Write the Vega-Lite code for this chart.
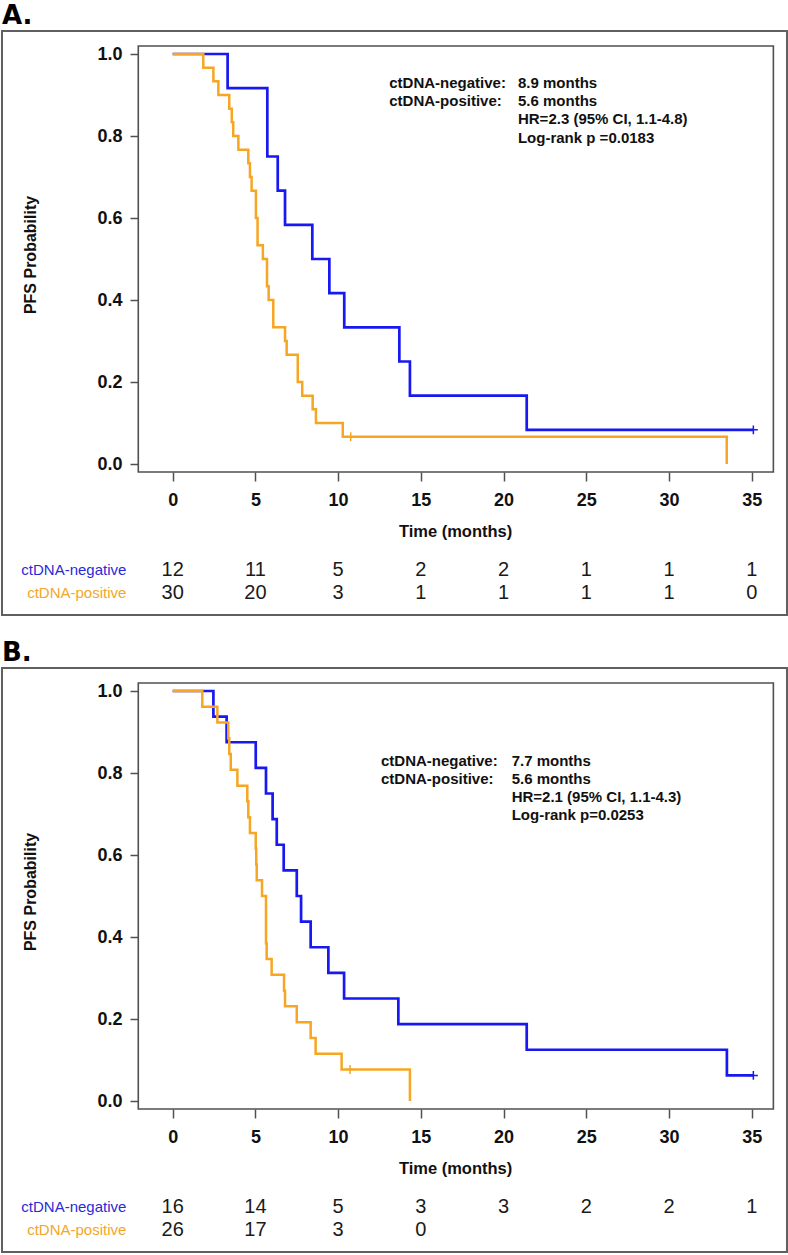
{
  "$schema": "https://vega.github.io/schema/vega-lite/v6.json",
  "padding": 0,
  "background": "white",
  "bounds": "flush",
  "spacing": 19,
  "config": {
    "view": {"stroke": null},
    "axisX": {"domain": false, "grid": false, "tickSize": 9, "tickColor": "#505050", "tickWidth": 1.5, "labelFont": "Liberation Sans", "labelFontWeight": "bold", "labelFontSize": 18, "labelColor": "#111111", "labelPadding": 10, "labelFlush": false, "labelOverlap": false},
    "axisY": {"domain": false, "grid": false, "tickSize": 8, "tickColor": "#505050", "tickWidth": 1.5, "labelFont": "Liberation Sans", "labelFontWeight": "bold", "labelFontSize": 18, "labelColor": "#111111", "labelPadding": 8, "labelFlush": false, "labelOverlap": false},
    "text": {"font": "Liberation Sans"}
  },
  "datasets": {
    "km": [
      {"panel": "A", "group": "neg", "t": 0, "s": 1},
      {"panel": "A", "group": "neg", "t": 3.32, "s": 0.9167},
      {"panel": "A", "group": "neg", "t": 5.72, "s": 0.75},
      {"panel": "A", "group": "neg", "t": 6.35, "s": 0.6667},
      {"panel": "A", "group": "neg", "t": 6.79, "s": 0.5833},
      {"panel": "A", "group": "neg", "t": 8.44, "s": 0.5},
      {"panel": "A", "group": "neg", "t": 9.47, "s": 0.4167},
      {"panel": "A", "group": "neg", "t": 10.37, "s": 0.3333},
      {"panel": "A", "group": "neg", "t": 13.7, "s": 0.25},
      {"panel": "A", "group": "neg", "t": 14.34, "s": 0.1667},
      {"panel": "A", "group": "neg", "t": 21.4, "s": 0.0833},
      {"panel": "A", "group": "neg", "t": 35.1, "s": 0.0833},
      {"panel": "A", "group": "pos", "t": 0, "s": 1},
      {"panel": "A", "group": "pos", "t": 1.85, "s": 0.9667},
      {"panel": "A", "group": "pos", "t": 2.46, "s": 0.9333},
      {"panel": "A", "group": "pos", "t": 2.76, "s": 0.9},
      {"panel": "A", "group": "pos", "t": 3.42, "s": 0.8667},
      {"panel": "A", "group": "pos", "t": 3.57, "s": 0.8333},
      {"panel": "A", "group": "pos", "t": 3.66, "s": 0.8},
      {"panel": "A", "group": "pos", "t": 3.97, "s": 0.7667},
      {"panel": "A", "group": "pos", "t": 4.57, "s": 0.7333},
      {"panel": "A", "group": "pos", "t": 4.67, "s": 0.7},
      {"panel": "A", "group": "pos", "t": 4.77, "s": 0.6667},
      {"panel": "A", "group": "pos", "t": 5.03, "s": 0.6},
      {"panel": "A", "group": "pos", "t": 5.13, "s": 0.5333},
      {"panel": "A", "group": "pos", "t": 5.45, "s": 0.5},
      {"panel": "A", "group": "pos", "t": 5.7, "s": 0.4333},
      {"panel": "A", "group": "pos", "t": 5.8, "s": 0.4},
      {"panel": "A", "group": "pos", "t": 6.08, "s": 0.3333},
      {"panel": "A", "group": "pos", "t": 6.79, "s": 0.3},
      {"panel": "A", "group": "pos", "t": 6.89, "s": 0.2667},
      {"panel": "A", "group": "pos", "t": 7.56, "s": 0.2},
      {"panel": "A", "group": "pos", "t": 7.83, "s": 0.1667},
      {"panel": "A", "group": "pos", "t": 8.46, "s": 0.1333},
      {"panel": "A", "group": "pos", "t": 8.66, "s": 0.1},
      {"panel": "A", "group": "pos", "t": 10.28, "s": 0.0667},
      {"panel": "A", "group": "pos", "t": 33.49, "s": 0},
      {"panel": "B", "group": "neg", "t": 0, "s": 1},
      {"panel": "B", "group": "neg", "t": 2.46, "s": 0.9375},
      {"panel": "B", "group": "neg", "t": 3.26, "s": 0.875},
      {"panel": "B", "group": "neg", "t": 5.02, "s": 0.8125},
      {"panel": "B", "group": "neg", "t": 5.64, "s": 0.75},
      {"panel": "B", "group": "neg", "t": 6.04, "s": 0.6875},
      {"panel": "B", "group": "neg", "t": 6.29, "s": 0.625},
      {"panel": "B", "group": "neg", "t": 6.71, "s": 0.5625},
      {"panel": "B", "group": "neg", "t": 7.5, "s": 0.5},
      {"panel": "B", "group": "neg", "t": 7.76, "s": 0.4375},
      {"panel": "B", "group": "neg", "t": 8.34, "s": 0.375},
      {"panel": "B", "group": "neg", "t": 9.41, "s": 0.3125},
      {"panel": "B", "group": "neg", "t": 10.36, "s": 0.25},
      {"panel": "B", "group": "neg", "t": 13.64, "s": 0.1875},
      {"panel": "B", "group": "neg", "t": 21.4, "s": 0.125},
      {"panel": "B", "group": "neg", "t": 33.5, "s": 0.0625},
      {"panel": "B", "group": "neg", "t": 35.1, "s": 0.0625},
      {"panel": "B", "group": "pos", "t": 0, "s": 1},
      {"panel": "B", "group": "pos", "t": 1.79, "s": 0.9615},
      {"panel": "B", "group": "pos", "t": 2.7, "s": 0.9231},
      {"panel": "B", "group": "pos", "t": 3.36, "s": 0.8846},
      {"panel": "B", "group": "pos", "t": 3.42, "s": 0.8462},
      {"panel": "B", "group": "pos", "t": 3.51, "s": 0.8077},
      {"panel": "B", "group": "pos", "t": 3.91, "s": 0.7692},
      {"panel": "B", "group": "pos", "t": 4.51, "s": 0.7308},
      {"panel": "B", "group": "pos", "t": 4.57, "s": 0.6923},
      {"panel": "B", "group": "pos", "t": 4.67, "s": 0.6538},
      {"panel": "B", "group": "pos", "t": 5.02, "s": 0.6154},
      {"panel": "B", "group": "pos", "t": 5.05, "s": 0.5769},
      {"panel": "B", "group": "pos", "t": 5.08, "s": 0.5385},
      {"panel": "B", "group": "pos", "t": 5.4, "s": 0.5},
      {"panel": "B", "group": "pos", "t": 5.64, "s": 0.3846},
      {"panel": "B", "group": "pos", "t": 5.68, "s": 0.3462},
      {"panel": "B", "group": "pos", "t": 5.98, "s": 0.3077},
      {"panel": "B", "group": "pos", "t": 6.73, "s": 0.2692},
      {"panel": "B", "group": "pos", "t": 6.79, "s": 0.2308},
      {"panel": "B", "group": "pos", "t": 7.5, "s": 0.1923},
      {"panel": "B", "group": "pos", "t": 8.34, "s": 0.1538},
      {"panel": "B", "group": "pos", "t": 8.64, "s": 0.1154},
      {"panel": "B", "group": "pos", "t": 10.21, "s": 0.0769},
      {"panel": "B", "group": "pos", "t": 14.34, "s": 0}
    ],
    "censor": [
      {"panel": "A", "group": "neg", "t": 35.1, "s": 0.0833},
      {"panel": "A", "group": "pos", "t": 10.76, "s": 0.0667},
      {"panel": "B", "group": "neg", "t": 35.1, "s": 0.0625},
      {"panel": "B", "group": "pos", "t": 10.72, "s": 0.0769}
    ],
    "risk": [
      {"panel": "A", "group": "neg", "t": 0, "n": 12},
      {"panel": "A", "group": "neg", "t": 5, "n": 11},
      {"panel": "A", "group": "neg", "t": 10, "n": 5},
      {"panel": "A", "group": "neg", "t": 15, "n": 2},
      {"panel": "A", "group": "neg", "t": 20, "n": 2},
      {"panel": "A", "group": "neg", "t": 25, "n": 1},
      {"panel": "A", "group": "neg", "t": 30, "n": 1},
      {"panel": "A", "group": "neg", "t": 35, "n": 1},
      {"panel": "A", "group": "pos", "t": 0, "n": 30},
      {"panel": "A", "group": "pos", "t": 5, "n": 20},
      {"panel": "A", "group": "pos", "t": 10, "n": 3},
      {"panel": "A", "group": "pos", "t": 15, "n": 1},
      {"panel": "A", "group": "pos", "t": 20, "n": 1},
      {"panel": "A", "group": "pos", "t": 25, "n": 1},
      {"panel": "A", "group": "pos", "t": 30, "n": 1},
      {"panel": "A", "group": "pos", "t": 35, "n": 0},
      {"panel": "B", "group": "neg", "t": 0, "n": 16},
      {"panel": "B", "group": "neg", "t": 5, "n": 14},
      {"panel": "B", "group": "neg", "t": 10, "n": 5},
      {"panel": "B", "group": "neg", "t": 15, "n": 3},
      {"panel": "B", "group": "neg", "t": 20, "n": 3},
      {"panel": "B", "group": "neg", "t": 25, "n": 2},
      {"panel": "B", "group": "neg", "t": 30, "n": 2},
      {"panel": "B", "group": "neg", "t": 35, "n": 1},
      {"panel": "B", "group": "pos", "t": 0, "n": 26},
      {"panel": "B", "group": "pos", "t": 5, "n": 17},
      {"panel": "B", "group": "pos", "t": 10, "n": 3},
      {"panel": "B", "group": "pos", "t": 15, "n": 0}
    ]
  },
  "vconcat": [
    {
      "width": 788,
      "height": 618,
      "layer": [
        {"data": {"values": [{}]}, "mark": {"type": "rect", "fill": "transparent", "stroke": "#606060", "strokeWidth": 2},
         "encoding": {"x": {"datum": -10.319, "type": "quantitative", "scale": {"domain": [-10.4394, 37.194], "nice": false, "zero": false}, "axis": {"offset": -146, "values": [0, 5, 10, 15, 20, 25, 30, 35], "format": "d", "title": null}}, "x2": {"datum": 37.133}, "y": {"datum": 1.0561, "type": "quantitative", "scale": {"domain": [-0.37561, 1.13171], "nice": false, "zero": false}, "axis": {"offset": -138, "values": [0, 0.2, 0.4, 0.6, 0.8, 1], "format": ".1f", "title": null}}, "y2": {"datum": -0.3683}}},
        {"data": {"values": [{}]}, "mark": {"type": "rect", "fill": "transparent", "stroke": "#505050", "strokeWidth": 1.6},
         "encoding": {"x": {"datum": -2.08, "type": "quantitative", "scale": {"domain": [-10.4394, 37.194], "nice": false, "zero": false}, "axis": {"offset": -146, "values": [0, 5, 10, 15, 20, 25, 30, 35], "format": "d", "title": null}}, "x2": {"datum": 36.31}, "y": {"datum": 1.0195, "type": "quantitative", "scale": {"domain": [-0.37561, 1.13171], "nice": false, "zero": false}, "axis": {"offset": -138, "values": [0, 0.2, 0.4, 0.6, 0.8, 1], "format": ".1f", "title": null}}, "y2": {"datum": -0.0195}}},
        {"data": {"name": "km"}, "transform": [{"filter": "datum.panel === 'A' && datum.group === 'neg'"}], "mark": {"type": "line", "interpolate": "step-after", "color": "#1818f0", "strokeWidth": 2.7},
         "encoding": {"x": {"field": "t", "type": "quantitative", "scale": {"domain": [-10.4394, 37.194], "nice": false, "zero": false}, "axis": {"offset": -146, "values": [0, 5, 10, 15, 20, 25, 30, 35], "format": "d", "title": null}}, "y": {"field": "s", "type": "quantitative", "scale": {"domain": [-0.37561, 1.13171], "nice": false, "zero": false}, "axis": {"offset": -138, "values": [0, 0.2, 0.4, 0.6, 0.8, 1], "format": ".1f", "title": null}}}},
        {"data": {"name": "km"}, "transform": [{"filter": "datum.panel === 'A' && datum.group === 'pos'"}], "mark": {"type": "line", "interpolate": "step-after", "color": "#f6a623", "strokeWidth": 2.5},
         "encoding": {"x": {"field": "t", "type": "quantitative", "scale": {"domain": [-10.4394, 37.194], "nice": false, "zero": false}, "axis": {"offset": -146, "values": [0, 5, 10, 15, 20, 25, 30, 35], "format": "d", "title": null}}, "y": {"field": "s", "type": "quantitative", "scale": {"domain": [-0.37561, 1.13171], "nice": false, "zero": false}, "axis": {"offset": -138, "values": [0, 0.2, 0.4, 0.6, 0.8, 1], "format": ".1f", "title": null}}}},
        {"data": {"name": "censor"}, "transform": [{"filter": "datum.panel === 'A'"}], "mark": {"type": "point", "shape": "M-1,0L1,0M0,-1L0,1", "filled": false, "size": 80, "strokeWidth": 1.5, "opacity": 1},
         "encoding": {"x": {"field": "t", "type": "quantitative", "scale": {"domain": [-10.4394, 37.194], "nice": false, "zero": false}, "axis": {"offset": -146, "values": [0, 5, 10, 15, 20, 25, 30, 35], "format": "d", "title": null}}, "y": {"field": "s", "type": "quantitative", "scale": {"domain": [-0.37561, 1.13171], "nice": false, "zero": false}, "axis": {"offset": -138, "values": [0, 0.2, 0.4, 0.6, 0.8, 1], "format": ".1f", "title": null}}, "color": {"field": "group", "type": "nominal", "scale": {"domain": ["neg", "pos"], "range": ["#1818f0", "#f6a623"]}, "legend": null}}},
        {"data": {"name": "risk"}, "transform": [{"filter": "datum.panel === 'A' && datum.group === 'neg'"}], "mark": {"type": "text", "fontSize": 20, "color": "#1a1a1a", "baseline": "middle", "align": "center"},
         "encoding": {"x": {"field": "t", "type": "quantitative", "scale": {"domain": [-10.4394, 37.194], "nice": false, "zero": false}, "axis": {"offset": -146, "values": [0, 5, 10, 15, 20, 25, 30, 35], "format": "d", "title": null}}, "y": {"datum": -0.2585, "type": "quantitative", "scale": {"domain": [-0.37561, 1.13171], "nice": false, "zero": false}, "axis": {"offset": -138, "values": [0, 0.2, 0.4, 0.6, 0.8, 1], "format": ".1f", "title": null}}, "text": {"field": "n"}}},
        {"data": {"name": "risk"}, "transform": [{"filter": "datum.panel === 'A' && datum.group === 'pos'"}], "mark": {"type": "text", "fontSize": 20, "color": "#1a1a1a", "baseline": "middle", "align": "center"},
         "encoding": {"x": {"field": "t", "type": "quantitative", "scale": {"domain": [-10.4394, 37.194], "nice": false, "zero": false}, "axis": {"offset": -146, "values": [0, 5, 10, 15, 20, 25, 30, 35], "format": "d", "title": null}}, "y": {"datum": -0.3146, "type": "quantitative", "scale": {"domain": [-0.37561, 1.13171], "nice": false, "zero": false}, "axis": {"offset": -138, "values": [0, 0.2, 0.4, 0.6, 0.8, 1], "format": ".1f", "title": null}}, "text": {"field": "n"}}},
        {"data": {"values": [{"label": "A."}]}, "mark": {"type": "text", "font": "DejaVu Sans", "fontSize": 26, "fontWeight": "bold", "color": "#000000", "baseline": "alphabetic", "align": "left"},
         "encoding": {"x": {"datum": -10.319, "type": "quantitative", "scale": {"domain": [-10.4394, 37.194], "nice": false, "zero": false}, "axis": {"offset": -146, "values": [0, 5, 10, 15, 20, 25, 30, 35], "format": "d", "title": null}}, "y": {"datum": 1.0732, "type": "quantitative", "scale": {"domain": [-0.37561, 1.13171], "nice": false, "zero": false}, "axis": {"offset": -138, "values": [0, 0.2, 0.4, 0.6, 0.8, 1], "format": ".1f", "title": null}}, "text": {"field": "label"}}},
        {"data": {"values": [{"label": "ctDNA-negative"}]}, "mark": {"type": "text", "fontSize": 15, "color": "#2a2ad8", "baseline": "middle", "align": "right"},
         "encoding": {"x": {"datum": -2.8, "type": "quantitative", "scale": {"domain": [-10.4394, 37.194], "nice": false, "zero": false}, "axis": {"offset": -146, "values": [0, 5, 10, 15, 20, 25, 30, 35], "format": "d", "title": null}}, "y": {"datum": -0.2585, "type": "quantitative", "scale": {"domain": [-0.37561, 1.13171], "nice": false, "zero": false}, "axis": {"offset": -138, "values": [0, 0.2, 0.4, 0.6, 0.8, 1], "format": ".1f", "title": null}}, "text": {"field": "label"}}},
        {"data": {"values": [{"label": "ctDNA-positive"}]}, "mark": {"type": "text", "fontSize": 15, "color": "#f3a62a", "baseline": "middle", "align": "right"},
         "encoding": {"x": {"datum": -2.8, "type": "quantitative", "scale": {"domain": [-10.4394, 37.194], "nice": false, "zero": false}, "axis": {"offset": -146, "values": [0, 5, 10, 15, 20, 25, 30, 35], "format": "d", "title": null}}, "y": {"datum": -0.3146, "type": "quantitative", "scale": {"domain": [-0.37561, 1.13171], "nice": false, "zero": false}, "axis": {"offset": -138, "values": [0, 0.2, 0.4, 0.6, 0.8, 1], "format": ".1f", "title": null}}, "text": {"field": "label"}}},
        {"data": {"values": [{"label": "ctDNA-negative:"}]}, "mark": {"type": "text", "fontSize": 15, "fontWeight": "bold", "color": "#111111", "baseline": "middle", "align": "left"},
         "encoding": {"x": {"datum": 13.09, "type": "quantitative", "scale": {"domain": [-10.4394, 37.194], "nice": false, "zero": false}, "axis": {"offset": -146, "values": [0, 5, 10, 15, 20, 25, 30, 35], "format": "d", "title": null}}, "y": {"datum": 0.9302, "type": "quantitative", "scale": {"domain": [-0.37561, 1.13171], "nice": false, "zero": false}, "axis": {"offset": -138, "values": [0, 0.2, 0.4, 0.6, 0.8, 1], "format": ".1f", "title": null}}, "text": {"field": "label"}}},
        {"data": {"values": [{"label": "ctDNA-positive:"}]}, "mark": {"type": "text", "fontSize": 15, "fontWeight": "bold", "color": "#111111", "baseline": "middle", "align": "left"},
         "encoding": {"x": {"datum": 13.09, "type": "quantitative", "scale": {"domain": [-10.4394, 37.194], "nice": false, "zero": false}, "axis": {"offset": -146, "values": [0, 5, 10, 15, 20, 25, 30, 35], "format": "d", "title": null}}, "y": {"datum": 0.8856, "type": "quantitative", "scale": {"domain": [-0.37561, 1.13171], "nice": false, "zero": false}, "axis": {"offset": -138, "values": [0, 0.2, 0.4, 0.6, 0.8, 1], "format": ".1f", "title": null}}, "text": {"field": "label"}}},
        {"data": {"values": [{"label": "8.9 months"}]}, "mark": {"type": "text", "fontSize": 15, "fontWeight": "bold", "color": "#111111", "baseline": "middle", "align": "left"},
         "encoding": {"x": {"datum": 20.87, "type": "quantitative", "scale": {"domain": [-10.4394, 37.194], "nice": false, "zero": false}, "axis": {"offset": -146, "values": [0, 5, 10, 15, 20, 25, 30, 35], "format": "d", "title": null}}, "y": {"datum": 0.9302, "type": "quantitative", "scale": {"domain": [-0.37561, 1.13171], "nice": false, "zero": false}, "axis": {"offset": -138, "values": [0, 0.2, 0.4, 0.6, 0.8, 1], "format": ".1f", "title": null}}, "text": {"field": "label"}}},
        {"data": {"values": [{"label": "5.6 months"}]}, "mark": {"type": "text", "fontSize": 15, "fontWeight": "bold", "color": "#111111", "baseline": "middle", "align": "left"},
         "encoding": {"x": {"datum": 20.87, "type": "quantitative", "scale": {"domain": [-10.4394, 37.194], "nice": false, "zero": false}, "axis": {"offset": -146, "values": [0, 5, 10, 15, 20, 25, 30, 35], "format": "d", "title": null}}, "y": {"datum": 0.8856, "type": "quantitative", "scale": {"domain": [-0.37561, 1.13171], "nice": false, "zero": false}, "axis": {"offset": -138, "values": [0, 0.2, 0.4, 0.6, 0.8, 1], "format": ".1f", "title": null}}, "text": {"field": "label"}}},
        {"data": {"values": [{"label": "HR=2.3 (95% CI, 1.1-4.8)"}]}, "mark": {"type": "text", "fontSize": 15, "fontWeight": "bold", "color": "#111111", "baseline": "middle", "align": "left"},
         "encoding": {"x": {"datum": 20.87, "type": "quantitative", "scale": {"domain": [-10.4394, 37.194], "nice": false, "zero": false}, "axis": {"offset": -146, "values": [0, 5, 10, 15, 20, 25, 30, 35], "format": "d", "title": null}}, "y": {"datum": 0.841, "type": "quantitative", "scale": {"domain": [-0.37561, 1.13171], "nice": false, "zero": false}, "axis": {"offset": -138, "values": [0, 0.2, 0.4, 0.6, 0.8, 1], "format": ".1f", "title": null}}, "text": {"field": "label"}}},
        {"data": {"values": [{"label": "Log-rank p =0.0183"}]}, "mark": {"type": "text", "fontSize": 15, "fontWeight": "bold", "color": "#111111", "baseline": "middle", "align": "left"},
         "encoding": {"x": {"datum": 20.87, "type": "quantitative", "scale": {"domain": [-10.4394, 37.194], "nice": false, "zero": false}, "axis": {"offset": -146, "values": [0, 5, 10, 15, 20, 25, 30, 35], "format": "d", "title": null}}, "y": {"datum": 0.7961, "type": "quantitative", "scale": {"domain": [-0.37561, 1.13171], "nice": false, "zero": false}, "axis": {"offset": -138, "values": [0, 0.2, 0.4, 0.6, 0.8, 1], "format": ".1f", "title": null}}, "text": {"field": "label"}}},
        {"data": {"values": [{"label": "Time (months)"}]}, "mark": {"type": "text", "fontSize": 16.5, "fontWeight": "bold", "color": "#111111", "baseline": "middle", "align": "center"},
         "encoding": {"x": {"datum": 17.1, "type": "quantitative", "scale": {"domain": [-10.4394, 37.194], "nice": false, "zero": false}, "axis": {"offset": -146, "values": [0, 5, 10, 15, 20, 25, 30, 35], "format": "d", "title": null}}, "y": {"datum": -0.1659, "type": "quantitative", "scale": {"domain": [-0.37561, 1.13171], "nice": false, "zero": false}, "axis": {"offset": -138, "values": [0, 0.2, 0.4, 0.6, 0.8, 1], "format": ".1f", "title": null}}, "text": {"field": "label"}}},
        {"data": {"values": [{"label": "PFS Probability"}]}, "mark": {"type": "text", "fontSize": 16, "fontWeight": "bold", "color": "#111111", "baseline": "middle", "align": "center", "angle": 270},
         "encoding": {"x": {"datum": -8.566, "type": "quantitative", "scale": {"domain": [-10.4394, 37.194], "nice": false, "zero": false}, "axis": {"offset": -146, "values": [0, 5, 10, 15, 20, 25, 30, 35], "format": "d", "title": null}}, "y": {"datum": 0.5098, "type": "quantitative", "scale": {"domain": [-0.37561, 1.13171], "nice": false, "zero": false}, "axis": {"offset": -138, "values": [0, 0.2, 0.4, 0.6, 0.8, 1], "format": ".1f", "title": null}}, "text": {"field": "label"}}}
      ]
    },
    {
      "width": 788,
      "height": 618,
      "layer": [
        {"data": {"values": [{}]}, "mark": {"type": "rect", "fill": "transparent", "stroke": "#606060", "strokeWidth": 2},
         "encoding": {"x": {"datum": -10.319, "type": "quantitative", "scale": {"domain": [-10.4394, 37.194], "nice": false, "zero": false}, "axis": {"offset": -146, "values": [0, 5, 10, 15, 20, 25, 30, 35], "format": "d", "title": null}}, "x2": {"datum": 37.133}, "y": {"datum": 1.0561, "type": "quantitative", "scale": {"domain": [-0.37561, 1.13171], "nice": false, "zero": false}, "axis": {"offset": -138, "values": [0, 0.2, 0.4, 0.6, 0.8, 1], "format": ".1f", "title": null}}, "y2": {"datum": -0.3683}}},
        {"data": {"values": [{}]}, "mark": {"type": "rect", "fill": "transparent", "stroke": "#505050", "strokeWidth": 1.6},
         "encoding": {"x": {"datum": -2.08, "type": "quantitative", "scale": {"domain": [-10.4394, 37.194], "nice": false, "zero": false}, "axis": {"offset": -146, "values": [0, 5, 10, 15, 20, 25, 30, 35], "format": "d", "title": null}}, "x2": {"datum": 36.31}, "y": {"datum": 1.0195, "type": "quantitative", "scale": {"domain": [-0.37561, 1.13171], "nice": false, "zero": false}, "axis": {"offset": -138, "values": [0, 0.2, 0.4, 0.6, 0.8, 1], "format": ".1f", "title": null}}, "y2": {"datum": -0.0195}}},
        {"data": {"name": "km"}, "transform": [{"filter": "datum.panel === 'B' && datum.group === 'neg'"}], "mark": {"type": "line", "interpolate": "step-after", "color": "#1818f0", "strokeWidth": 2.7},
         "encoding": {"x": {"field": "t", "type": "quantitative", "scale": {"domain": [-10.4394, 37.194], "nice": false, "zero": false}, "axis": {"offset": -146, "values": [0, 5, 10, 15, 20, 25, 30, 35], "format": "d", "title": null}}, "y": {"field": "s", "type": "quantitative", "scale": {"domain": [-0.37561, 1.13171], "nice": false, "zero": false}, "axis": {"offset": -138, "values": [0, 0.2, 0.4, 0.6, 0.8, 1], "format": ".1f", "title": null}}}},
        {"data": {"name": "km"}, "transform": [{"filter": "datum.panel === 'B' && datum.group === 'pos'"}], "mark": {"type": "line", "interpolate": "step-after", "color": "#f6a623", "strokeWidth": 2.5},
         "encoding": {"x": {"field": "t", "type": "quantitative", "scale": {"domain": [-10.4394, 37.194], "nice": false, "zero": false}, "axis": {"offset": -146, "values": [0, 5, 10, 15, 20, 25, 30, 35], "format": "d", "title": null}}, "y": {"field": "s", "type": "quantitative", "scale": {"domain": [-0.37561, 1.13171], "nice": false, "zero": false}, "axis": {"offset": -138, "values": [0, 0.2, 0.4, 0.6, 0.8, 1], "format": ".1f", "title": null}}}},
        {"data": {"name": "censor"}, "transform": [{"filter": "datum.panel === 'B'"}], "mark": {"type": "point", "shape": "M-1,0L1,0M0,-1L0,1", "filled": false, "size": 80, "strokeWidth": 1.5, "opacity": 1},
         "encoding": {"x": {"field": "t", "type": "quantitative", "scale": {"domain": [-10.4394, 37.194], "nice": false, "zero": false}, "axis": {"offset": -146, "values": [0, 5, 10, 15, 20, 25, 30, 35], "format": "d", "title": null}}, "y": {"field": "s", "type": "quantitative", "scale": {"domain": [-0.37561, 1.13171], "nice": false, "zero": false}, "axis": {"offset": -138, "values": [0, 0.2, 0.4, 0.6, 0.8, 1], "format": ".1f", "title": null}}, "color": {"field": "group", "type": "nominal", "scale": {"domain": ["neg", "pos"], "range": ["#1818f0", "#f6a623"]}, "legend": null}}},
        {"data": {"name": "risk"}, "transform": [{"filter": "datum.panel === 'B' && datum.group === 'neg'"}], "mark": {"type": "text", "fontSize": 20, "color": "#1a1a1a", "baseline": "middle", "align": "center"},
         "encoding": {"x": {"field": "t", "type": "quantitative", "scale": {"domain": [-10.4394, 37.194], "nice": false, "zero": false}, "axis": {"offset": -146, "values": [0, 5, 10, 15, 20, 25, 30, 35], "format": "d", "title": null}}, "y": {"datum": -0.2585, "type": "quantitative", "scale": {"domain": [-0.37561, 1.13171], "nice": false, "zero": false}, "axis": {"offset": -138, "values": [0, 0.2, 0.4, 0.6, 0.8, 1], "format": ".1f", "title": null}}, "text": {"field": "n"}}},
        {"data": {"name": "risk"}, "transform": [{"filter": "datum.panel === 'B' && datum.group === 'pos'"}], "mark": {"type": "text", "fontSize": 20, "color": "#1a1a1a", "baseline": "middle", "align": "center"},
         "encoding": {"x": {"field": "t", "type": "quantitative", "scale": {"domain": [-10.4394, 37.194], "nice": false, "zero": false}, "axis": {"offset": -146, "values": [0, 5, 10, 15, 20, 25, 30, 35], "format": "d", "title": null}}, "y": {"datum": -0.3146, "type": "quantitative", "scale": {"domain": [-0.37561, 1.13171], "nice": false, "zero": false}, "axis": {"offset": -138, "values": [0, 0.2, 0.4, 0.6, 0.8, 1], "format": ".1f", "title": null}}, "text": {"field": "n"}}},
        {"data": {"values": [{"label": "B."}]}, "mark": {"type": "text", "font": "DejaVu Sans", "fontSize": 26, "fontWeight": "bold", "color": "#000000", "baseline": "alphabetic", "align": "left"},
         "encoding": {"x": {"datum": -10.319, "type": "quantitative", "scale": {"domain": [-10.4394, 37.194], "nice": false, "zero": false}, "axis": {"offset": -146, "values": [0, 5, 10, 15, 20, 25, 30, 35], "format": "d", "title": null}}, "y": {"datum": 1.0732, "type": "quantitative", "scale": {"domain": [-0.37561, 1.13171], "nice": false, "zero": false}, "axis": {"offset": -138, "values": [0, 0.2, 0.4, 0.6, 0.8, 1], "format": ".1f", "title": null}}, "text": {"field": "label"}}},
        {"data": {"values": [{"label": "ctDNA-negative"}]}, "mark": {"type": "text", "fontSize": 15, "color": "#2a2ad8", "baseline": "middle", "align": "right"},
         "encoding": {"x": {"datum": -2.8, "type": "quantitative", "scale": {"domain": [-10.4394, 37.194], "nice": false, "zero": false}, "axis": {"offset": -146, "values": [0, 5, 10, 15, 20, 25, 30, 35], "format": "d", "title": null}}, "y": {"datum": -0.2585, "type": "quantitative", "scale": {"domain": [-0.37561, 1.13171], "nice": false, "zero": false}, "axis": {"offset": -138, "values": [0, 0.2, 0.4, 0.6, 0.8, 1], "format": ".1f", "title": null}}, "text": {"field": "label"}}},
        {"data": {"values": [{"label": "ctDNA-positive"}]}, "mark": {"type": "text", "fontSize": 15, "color": "#f3a62a", "baseline": "middle", "align": "right"},
         "encoding": {"x": {"datum": -2.8, "type": "quantitative", "scale": {"domain": [-10.4394, 37.194], "nice": false, "zero": false}, "axis": {"offset": -146, "values": [0, 5, 10, 15, 20, 25, 30, 35], "format": "d", "title": null}}, "y": {"datum": -0.3146, "type": "quantitative", "scale": {"domain": [-0.37561, 1.13171], "nice": false, "zero": false}, "axis": {"offset": -138, "values": [0, 0.2, 0.4, 0.6, 0.8, 1], "format": ".1f", "title": null}}, "text": {"field": "label"}}},
        {"data": {"values": [{"label": "ctDNA-negative:"}]}, "mark": {"type": "text", "fontSize": 15, "fontWeight": "bold", "color": "#111111", "baseline": "middle", "align": "left"},
         "encoding": {"x": {"datum": 12.59, "type": "quantitative", "scale": {"domain": [-10.4394, 37.194], "nice": false, "zero": false}, "axis": {"offset": -146, "values": [0, 5, 10, 15, 20, 25, 30, 35], "format": "d", "title": null}}, "y": {"datum": 0.8295, "type": "quantitative", "scale": {"domain": [-0.37561, 1.13171], "nice": false, "zero": false}, "axis": {"offset": -138, "values": [0, 0.2, 0.4, 0.6, 0.8, 1], "format": ".1f", "title": null}}, "text": {"field": "label"}}},
        {"data": {"values": [{"label": "ctDNA-positive:"}]}, "mark": {"type": "text", "fontSize": 15, "fontWeight": "bold", "color": "#111111", "baseline": "middle", "align": "left"},
         "encoding": {"x": {"datum": 12.59, "type": "quantitative", "scale": {"domain": [-10.4394, 37.194], "nice": false, "zero": false}, "axis": {"offset": -146, "values": [0, 5, 10, 15, 20, 25, 30, 35], "format": "d", "title": null}}, "y": {"datum": 0.7863, "type": "quantitative", "scale": {"domain": [-0.37561, 1.13171], "nice": false, "zero": false}, "axis": {"offset": -138, "values": [0, 0.2, 0.4, 0.6, 0.8, 1], "format": ".1f", "title": null}}, "text": {"field": "label"}}},
        {"data": {"values": [{"label": "7.7 months"}]}, "mark": {"type": "text", "fontSize": 15, "fontWeight": "bold", "color": "#111111", "baseline": "middle", "align": "left"},
         "encoding": {"x": {"datum": 20.49, "type": "quantitative", "scale": {"domain": [-10.4394, 37.194], "nice": false, "zero": false}, "axis": {"offset": -146, "values": [0, 5, 10, 15, 20, 25, 30, 35], "format": "d", "title": null}}, "y": {"datum": 0.8295, "type": "quantitative", "scale": {"domain": [-0.37561, 1.13171], "nice": false, "zero": false}, "axis": {"offset": -138, "values": [0, 0.2, 0.4, 0.6, 0.8, 1], "format": ".1f", "title": null}}, "text": {"field": "label"}}},
        {"data": {"values": [{"label": "5.6 months"}]}, "mark": {"type": "text", "fontSize": 15, "fontWeight": "bold", "color": "#111111", "baseline": "middle", "align": "left"},
         "encoding": {"x": {"datum": 20.49, "type": "quantitative", "scale": {"domain": [-10.4394, 37.194], "nice": false, "zero": false}, "axis": {"offset": -146, "values": [0, 5, 10, 15, 20, 25, 30, 35], "format": "d", "title": null}}, "y": {"datum": 0.7863, "type": "quantitative", "scale": {"domain": [-0.37561, 1.13171], "nice": false, "zero": false}, "axis": {"offset": -138, "values": [0, 0.2, 0.4, 0.6, 0.8, 1], "format": ".1f", "title": null}}, "text": {"field": "label"}}},
        {"data": {"values": [{"label": "HR=2.1 (95% CI, 1.1-4.3)"}]}, "mark": {"type": "text", "fontSize": 15, "fontWeight": "bold", "color": "#111111", "baseline": "middle", "align": "left"},
         "encoding": {"x": {"datum": 20.49, "type": "quantitative", "scale": {"domain": [-10.4394, 37.194], "nice": false, "zero": false}, "axis": {"offset": -146, "values": [0, 5, 10, 15, 20, 25, 30, 35], "format": "d", "title": null}}, "y": {"datum": 0.7424, "type": "quantitative", "scale": {"domain": [-0.37561, 1.13171], "nice": false, "zero": false}, "axis": {"offset": -138, "values": [0, 0.2, 0.4, 0.6, 0.8, 1], "format": ".1f", "title": null}}, "text": {"field": "label"}}},
        {"data": {"values": [{"label": "Log-rank p=0.0253"}]}, "mark": {"type": "text", "fontSize": 15, "fontWeight": "bold", "color": "#111111", "baseline": "middle", "align": "left"},
         "encoding": {"x": {"datum": 20.49, "type": "quantitative", "scale": {"domain": [-10.4394, 37.194], "nice": false, "zero": false}, "axis": {"offset": -146, "values": [0, 5, 10, 15, 20, 25, 30, 35], "format": "d", "title": null}}, "y": {"datum": 0.6968, "type": "quantitative", "scale": {"domain": [-0.37561, 1.13171], "nice": false, "zero": false}, "axis": {"offset": -138, "values": [0, 0.2, 0.4, 0.6, 0.8, 1], "format": ".1f", "title": null}}, "text": {"field": "label"}}},
        {"data": {"values": [{"label": "Time (months)"}]}, "mark": {"type": "text", "fontSize": 16.5, "fontWeight": "bold", "color": "#111111", "baseline": "middle", "align": "center"},
         "encoding": {"x": {"datum": 17.1, "type": "quantitative", "scale": {"domain": [-10.4394, 37.194], "nice": false, "zero": false}, "axis": {"offset": -146, "values": [0, 5, 10, 15, 20, 25, 30, 35], "format": "d", "title": null}}, "y": {"datum": -0.1659, "type": "quantitative", "scale": {"domain": [-0.37561, 1.13171], "nice": false, "zero": false}, "axis": {"offset": -138, "values": [0, 0.2, 0.4, 0.6, 0.8, 1], "format": ".1f", "title": null}}, "text": {"field": "label"}}},
        {"data": {"values": [{"label": "PFS Probability"}]}, "mark": {"type": "text", "fontSize": 16, "fontWeight": "bold", "color": "#111111", "baseline": "middle", "align": "center", "angle": 270},
         "encoding": {"x": {"datum": -8.566, "type": "quantitative", "scale": {"domain": [-10.4394, 37.194], "nice": false, "zero": false}, "axis": {"offset": -146, "values": [0, 5, 10, 15, 20, 25, 30, 35], "format": "d", "title": null}}, "y": {"datum": 0.5098, "type": "quantitative", "scale": {"domain": [-0.37561, 1.13171], "nice": false, "zero": false}, "axis": {"offset": -138, "values": [0, 0.2, 0.4, 0.6, 0.8, 1], "format": ".1f", "title": null}}, "text": {"field": "label"}}}
      ]
    }
  ]
}
